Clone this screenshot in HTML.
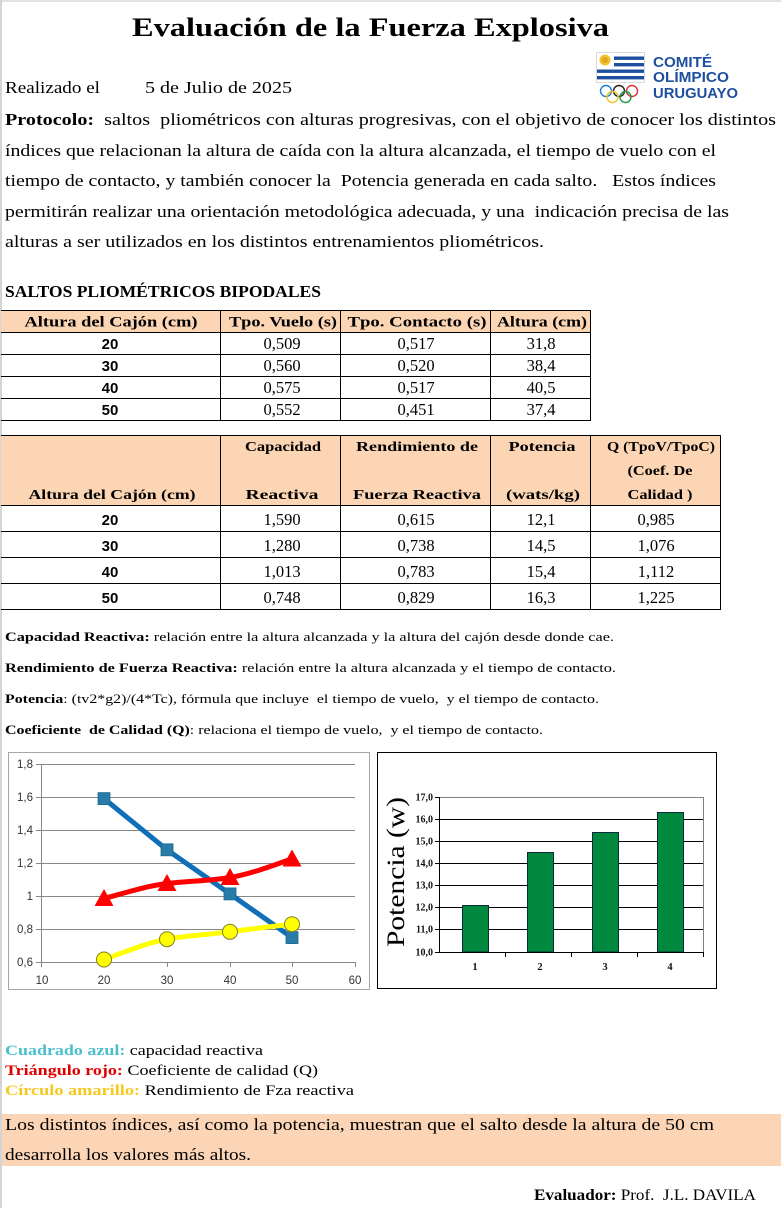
<!DOCTYPE html>
<html><head><meta charset="utf-8"><style>
html,body{margin:0;padding:0;background:#fff;}
svg{display:block;}
text{white-space:pre;}
.s{font-family:"Liberation Serif",serif;}
.a{font-family:"Liberation Sans",sans-serif;}
</style></head><body>
<svg width="781" height="1208" viewBox="0 0 781 1208" xmlns="http://www.w3.org/2000/svg">
<rect x="0" y="0" width="781" height="1208" fill="#fff"/>
<line x1="0" y1="1" x2="781" y2="1" stroke="#e2e2e2" stroke-width="2"/>
<line x1="1" y1="0" x2="1" y2="1208" stroke="#d4d4d4" stroke-width="2"/>

<!-- Title -->
<text class="s" x="132" y="36" font-size="26" font-weight="bold" textLength="477" lengthAdjust="spacingAndGlyphs">Evaluación de la Fuerza Explosiva</text>

<!-- Logo -->
<g>
<rect x="596.5" y="52.5" width="48" height="30" fill="#fff" stroke="#d8d8d8"/>
<rect x="614" y="56.5" width="30" height="3.4" fill="#1d4f9f"/>
<rect x="614" y="63" width="30" height="3.4" fill="#1d4f9f"/>
<rect x="597" y="69.5" width="47" height="3.4" fill="#1d4f9f"/>
<rect x="597" y="76" width="47" height="3.4" fill="#1d4f9f"/>
<circle cx="605" cy="60" r="5.5" fill="#f2c230"/>
<circle cx="605" cy="60" r="3" fill="#e0a820"/>
<g fill="none" stroke-width="1.4">
<circle cx="606" cy="91" r="5.5" stroke="#1f7fd0"/>
<circle cx="619" cy="91" r="5.5" stroke="#222"/>
<circle cx="632" cy="91" r="5.5" stroke="#e0303a"/>
<circle cx="612.5" cy="97" r="5.5" stroke="#f2c230"/>
<circle cx="625.5" cy="97" r="5.5" stroke="#1a9a45"/>
</g>
<text class="a" x="653" y="67" font-size="14.5" font-weight="bold" fill="#1e4f9e" textLength="59" lengthAdjust="spacingAndGlyphs">COMITÉ</text>
<text class="a" x="653" y="82" font-size="14.5" font-weight="bold" fill="#1e4f9e" textLength="76" lengthAdjust="spacingAndGlyphs">OLÍMPICO</text>
<text class="a" x="653" y="98" font-size="14.5" font-weight="bold" fill="#1e4f9e" textLength="85" lengthAdjust="spacingAndGlyphs">URUGUAYO</text>
</g>

<!-- Intro -->
<g class="s" font-size="17" fill="#000">
<text x="5" y="93" textLength="95" lengthAdjust="spacingAndGlyphs">Realizado el</text>
<text x="145" y="93" textLength="147" lengthAdjust="spacingAndGlyphs">5 de Julio de 2025</text>
<text x="5" y="125" textLength="771" lengthAdjust="spacingAndGlyphs"><tspan font-weight="bold">Protocolo:</tspan>  saltos  pliométricos con alturas progresivas, con el objetivo de conocer los distintos</text>
<text x="5" y="156" textLength="711" lengthAdjust="spacingAndGlyphs">índices que relacionan la altura de caída con la altura alcanzada, el tiempo de vuelo con el</text>
<text x="5" y="186" textLength="711" lengthAdjust="spacingAndGlyphs">tiempo de contacto, y también conocer la  Potencia generada en cada salto.   Estos índices</text>
<text x="5" y="217" textLength="724" lengthAdjust="spacingAndGlyphs">permitirán realizar una orientación metodológica adecuada, y una  indicación precisa de las</text>
<text x="5" y="247" textLength="539" lengthAdjust="spacingAndGlyphs">alturas a ser utilizados en los distintos entrenamientos pliométricos.</text>
</g>

<text class="s" x="5" y="297" font-size="16.5" font-weight="bold" textLength="316" lengthAdjust="spacingAndGlyphs">SALTOS PLIOMÉTRICOS BIPODALES</text>

<!-- Table 1 -->
<rect x="1" y="310" width="589" height="22" fill="#fcd5b4"/>
<g stroke="#000" stroke-width="1">
<line x1="1" y1="310.5" x2="590.5" y2="310.5"/>
<line x1="1" y1="332.5" x2="590.5" y2="332.5"/>
<line x1="1" y1="354.5" x2="590.5" y2="354.5"/>
<line x1="1" y1="376.5" x2="590.5" y2="376.5"/>
<line x1="1" y1="398.5" x2="590.5" y2="398.5"/>
<line x1="1" y1="420.5" x2="590.5" y2="420.5"/>
<line x1="220.5" y1="310" x2="220.5" y2="421"/>
<line x1="340.5" y1="310" x2="340.5" y2="421"/>
<line x1="490.5" y1="310" x2="490.5" y2="421"/>
<line x1="590.5" y1="310" x2="590.5" y2="421"/>
</g>
<g class="s" font-size="15" font-weight="bold" text-anchor="middle">
<text x="111" y="326.5" textLength="173" lengthAdjust="spacingAndGlyphs">Altura del Cajón (cm)</text>
<text x="283" y="326.5" textLength="108" lengthAdjust="spacingAndGlyphs">Tpo. Vuelo (s)</text>
<text x="417" y="326.5" textLength="139" lengthAdjust="spacingAndGlyphs">Tpo. Contacto (s)</text>
<text x="542" y="326.5" textLength="90" lengthAdjust="spacingAndGlyphs">Altura (cm)</text>
</g>
<g class="a" font-size="15" font-weight="bold" text-anchor="middle">
<text x="110" y="349">20</text><text x="110" y="371">30</text><text x="110" y="393">40</text><text x="110" y="415">50</text>
</g>
<g class="s" font-size="16.5" text-anchor="middle">
<text x="282" y="349">0,509</text><text x="416" y="349">0,517</text><text x="541" y="349">31,8</text>
<text x="282" y="371">0,560</text><text x="416" y="371">0,520</text><text x="541" y="371">38,4</text>
<text x="282" y="393">0,575</text><text x="416" y="393">0,517</text><text x="541" y="393">40,5</text>
<text x="282" y="415">0,552</text><text x="416" y="415">0,451</text><text x="541" y="415">37,4</text>
</g>

<!-- Table 2 -->
<rect x="1" y="435" width="719" height="70" fill="#fcd5b4"/>
<g stroke="#000" stroke-width="1">
<line x1="1" y1="435.5" x2="720.5" y2="435.5"/>
<line x1="1" y1="505.5" x2="720.5" y2="505.5"/>
<line x1="1" y1="531.5" x2="720.5" y2="531.5"/>
<line x1="1" y1="557.5" x2="720.5" y2="557.5"/>
<line x1="1" y1="583.5" x2="720.5" y2="583.5"/>
<line x1="1" y1="609.5" x2="720.5" y2="609.5"/>
<line x1="220.5" y1="435" x2="220.5" y2="610"/>
<line x1="340.5" y1="435" x2="340.5" y2="610"/>
<line x1="490.5" y1="435" x2="490.5" y2="610"/>
<line x1="590.5" y1="435" x2="590.5" y2="610"/>
<line x1="720.5" y1="435" x2="720.5" y2="610"/>
</g>
<g class="s" font-size="14" font-weight="bold" text-anchor="middle">
<text x="112" y="499" textLength="167" lengthAdjust="spacingAndGlyphs">Altura del Cajón (cm)</text>
<text x="283" y="451" textLength="76" lengthAdjust="spacingAndGlyphs">Capacidad</text>
<text x="282" y="499" textLength="73" lengthAdjust="spacingAndGlyphs">Reactiva</text>
<text x="417" y="451" textLength="122" lengthAdjust="spacingAndGlyphs">Rendimiento de</text>
<text x="417" y="499" textLength="128" lengthAdjust="spacingAndGlyphs">Fuerza Reactiva</text>
<text x="542" y="451" textLength="67" lengthAdjust="spacingAndGlyphs">Potencia</text>
<text x="543" y="499" textLength="74" lengthAdjust="spacingAndGlyphs">(wats/kg)</text>
<text x="661" y="451" textLength="108" lengthAdjust="spacingAndGlyphs">Q (TpoV/TpoC)</text>
<text x="660" y="475" textLength="65" lengthAdjust="spacingAndGlyphs">(Coef. De</text>
<text x="660" y="499" textLength="65" lengthAdjust="spacingAndGlyphs">Calidad )</text>
</g>
<g class="a" font-size="15" font-weight="bold" text-anchor="middle">
<text x="110" y="525">20</text><text x="110" y="551">30</text><text x="110" y="577">40</text><text x="110" y="603">50</text>
</g>
<g class="s" font-size="16.5" text-anchor="middle">
<text x="282" y="525">1,590</text><text x="416" y="525">0,615</text><text x="541" y="525">12,1</text><text x="656" y="525">0,985</text>
<text x="282" y="551">1,280</text><text x="416" y="551">0,738</text><text x="541" y="551">14,5</text><text x="656" y="551">1,076</text>
<text x="282" y="577">1,013</text><text x="416" y="577">0,783</text><text x="541" y="577">15,4</text><text x="656" y="577">1,112</text>
<text x="282" y="603">0,748</text><text x="416" y="603">0,829</text><text x="541" y="603">16,3</text><text x="656" y="603">1,225</text>
</g>

<!-- Definitions -->
<g class="s" font-size="13">
<text x="5" y="641" textLength="609" lengthAdjust="spacingAndGlyphs"><tspan font-weight="bold">Capacidad Reactiva:</tspan> relación entre la altura alcanzada y la altura del cajón desde donde cae.</text>
<text x="5" y="672" textLength="611" lengthAdjust="spacingAndGlyphs"><tspan font-weight="bold">Rendimiento de Fuerza Reactiva:</tspan> relación entre la altura alcanzada y el tiempo de contacto.</text>
<text x="5" y="703" textLength="594" lengthAdjust="spacingAndGlyphs"><tspan font-weight="bold">Potencia</tspan>: (tv2*g2)/(4*Tc), fórmula que incluye  el tiempo de vuelo,  y el tiempo de contacto.</text>
<text x="5" y="734" textLength="538" lengthAdjust="spacingAndGlyphs"><tspan font-weight="bold">Coeficiente  de Calidad (Q)</tspan>: relaciona el tiempo de vuelo,  y el tiempo de contacto.</text>
</g>

<!-- Left chart -->
<rect x="8.5" y="752.5" width="361" height="237" fill="#fff" stroke="#a6a6a6"/>
<g stroke="#878787" stroke-width="1">
<line x1="41" y1="764.5" x2="355" y2="764.5"/>
<line x1="41" y1="797.5" x2="355" y2="797.5"/>
<line x1="41" y1="830.5" x2="355" y2="830.5"/>
<line x1="41" y1="863.5" x2="355" y2="863.5"/>
<line x1="41" y1="896.5" x2="355" y2="896.5"/>
<line x1="41" y1="929.5" x2="355" y2="929.5"/>
<line x1="36" y1="962.5" x2="355" y2="962.5"/>
<line x1="41.5" y1="764" x2="41.5" y2="967"/>
<line x1="36" y1="764.5" x2="41" y2="764.5"/>
<line x1="36" y1="797.5" x2="41" y2="797.5"/>
<line x1="36" y1="830.5" x2="41" y2="830.5"/>
<line x1="36" y1="863.5" x2="41" y2="863.5"/>
<line x1="36" y1="896.5" x2="41" y2="896.5"/>
<line x1="36" y1="929.5" x2="41" y2="929.5"/>
<line x1="104.5" y1="962" x2="104.5" y2="967"/>
<line x1="167.5" y1="962" x2="167.5" y2="967"/>
<line x1="230.5" y1="962" x2="230.5" y2="967"/>
<line x1="292.5" y1="962" x2="292.5" y2="967"/>
<line x1="355.5" y1="962" x2="355.5" y2="967"/>
</g>
<g class="a" font-size="11.5" fill="#333" text-anchor="end">
<text x="33" y="768">1,8</text><text x="33" y="801">1,6</text><text x="33" y="834">1,4</text><text x="33" y="867">1,2</text><text x="33" y="900">1</text><text x="33" y="933">0,8</text><text x="33" y="966">0,6</text>
</g>
<g class="a" font-size="11.5" fill="#333" text-anchor="middle">
<text x="42" y="984">10</text><text x="104" y="984">20</text><text x="167" y="984">30</text><text x="230" y="984">40</text><text x="292" y="984">50</text><text x="355" y="984">60</text>
</g>
<!-- blue -->
<polyline points="104,798.6 167,849.8 230,893.9 292,937.6" fill="none" stroke="#0f6fb8" stroke-width="5" stroke-linejoin="round"/>
<g fill="#2a7ca8" stroke="#1f6a90" stroke-width="0.8">
<rect x="98" y="792.6" width="12" height="12"/>
<rect x="161" y="843.8" width="12" height="12"/>
<rect x="224" y="887.9" width="12" height="12"/>
<rect x="286" y="931.6" width="12" height="12"/>
</g>
<!-- red -->
<path d="M104,898.5 C125,893 146,886 167,883.5 C188,881 209,881 230,877.5 C251,874 271,866 292,858.9" fill="none" stroke="#ff0000" stroke-width="5"/>
<g fill="#ff0000">
<polygon points="104,889 94.5,906 113.5,906"/>
<polygon points="167,874 157.5,891 176.5,891"/>
<polygon points="230,868 220.5,885 239.5,885"/>
<polygon points="292,849.5 282.5,866.5 301.5,866.5"/>
</g>
<!-- yellow -->
<path d="M104,959.5 C125,952 146,943 167,939.2 C188,935.5 209,934.5 230,931.8 C251,929 271,926.5 292,924.2" fill="none" stroke="#ffff00" stroke-width="5"/>
<g fill="#ffff00" stroke="#857e24" stroke-width="1">
<circle cx="104" cy="959.5" r="7.5"/>
<circle cx="167" cy="939.2" r="7.5"/>
<circle cx="230" cy="931.8" r="7.5"/>
<circle cx="292" cy="924.2" r="7.5"/>
</g>

<!-- Right chart -->
<rect x="377.5" y="752.5" width="339" height="236" fill="#fff" stroke="#000"/>
<g stroke="#808080" stroke-width="1">
<line x1="439" y1="797.5" x2="703" y2="797.5"/>
<line x1="703.5" y1="797" x2="703.5" y2="952"/>
</g>
<g stroke="#000" stroke-width="1">
<line x1="439" y1="819.5" x2="703" y2="819.5"/>
<line x1="439" y1="841.5" x2="703" y2="841.5"/>
<line x1="439" y1="863.5" x2="703" y2="863.5"/>
<line x1="439" y1="885.5" x2="703" y2="885.5"/>
<line x1="439" y1="907.5" x2="703" y2="907.5"/>
<line x1="439" y1="929.5" x2="703" y2="929.5"/>
</g>
<g fill="#00883e" stroke="#0d2a3a" stroke-width="1">
<rect x="462.5" y="905.5" width="26" height="46.5"/>
<rect x="527.5" y="852.5" width="26" height="99.5"/>
<rect x="592.5" y="832.5" width="26" height="119.5"/>
<rect x="657.5" y="812.5" width="26" height="139.5"/>
</g>
<g stroke="#000" stroke-width="1">
<line x1="439.5" y1="797" x2="439.5" y2="953"/>
<line x1="439" y1="952.5" x2="704" y2="952.5"/>
<line x1="435" y1="797.5" x2="439" y2="797.5"/>
<line x1="435" y1="819.5" x2="439" y2="819.5"/>
<line x1="435" y1="841.5" x2="439" y2="841.5"/>
<line x1="435" y1="863.5" x2="439" y2="863.5"/>
<line x1="435" y1="885.5" x2="439" y2="885.5"/>
<line x1="435" y1="907.5" x2="439" y2="907.5"/>
<line x1="435" y1="929.5" x2="439" y2="929.5"/>
<line x1="435" y1="952.5" x2="439" y2="952.5"/>
<line x1="505.5" y1="952" x2="505.5" y2="957"/>
<line x1="571.5" y1="952" x2="571.5" y2="957"/>
<line x1="637.5" y1="952" x2="637.5" y2="957"/>
<line x1="703.5" y1="952" x2="703.5" y2="957"/>
</g>
<g class="s" font-size="10" font-weight="bold" text-anchor="end" fill="#111">
<text x="433" y="800.5">17,0</text><text x="433" y="822.5">16,0</text><text x="433" y="844.5">15,0</text><text x="433" y="866.5">14,0</text><text x="433" y="888.5">13,0</text><text x="433" y="910.5">12,0</text><text x="433" y="932.5">11,0</text><text x="433" y="955.5">10,0</text>
</g>
<g class="s" font-size="10.5" font-weight="bold" text-anchor="middle" fill="#111">
<text x="475" y="970">1</text><text x="540" y="970">2</text><text x="605" y="970">3</text><text x="670" y="970">4</text>
</g>
<text class="s" font-size="25" text-anchor="middle" transform="translate(404,872) rotate(-90)" textLength="150" lengthAdjust="spacingAndGlyphs">Potencia (w)</text>

<!-- Legend -->
<g class="s" font-size="15">
<text x="5" y="1055" textLength="258" lengthAdjust="spacingAndGlyphs"><tspan font-weight="bold" fill="#4bbfcc">Cuadrado azul:</tspan> capacidad reactiva</text>
<text x="5" y="1075" textLength="313" lengthAdjust="spacingAndGlyphs"><tspan font-weight="bold" fill="#e00000">Triángulo rojo:</tspan> Coeficiente de calidad (Q)</text>
<text x="5" y="1095" textLength="349" lengthAdjust="spacingAndGlyphs"><tspan font-weight="bold" fill="#f7c81e">Círculo amarillo:</tspan> Rendimiento de Fza reactiva</text>
</g>

<!-- Conclusion -->
<rect x="2" y="1114" width="779" height="52" fill="#fbd5b5"/>
<g class="s" font-size="17">
<text x="5" y="1130" textLength="709" lengthAdjust="spacingAndGlyphs">Los distintos índices, así como la potencia, muestran que el salto desde la altura de 50 cm</text>
<text x="5" y="1160" textLength="246" lengthAdjust="spacingAndGlyphs">desarrolla los valores más altos.</text>
</g>

<text class="s" x="534" y="1200" font-size="15.5" textLength="222" lengthAdjust="spacingAndGlyphs"><tspan font-weight="bold">Evaluador:</tspan> Prof.  J.L. DAVILA</text>
</svg>
</body></html>
